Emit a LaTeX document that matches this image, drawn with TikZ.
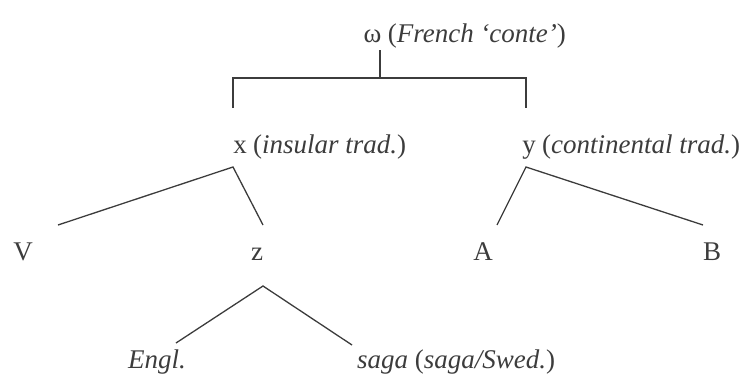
\documentclass[tikz,border=0pt]{standalone}
\usepackage{fontspec}
\setmainfont{Liberation Serif}
\usepackage{tikz}
\usetikzlibrary{positioning, calc}
\definecolor{inkgray}{RGB}{60, 60, 60}

\begin{document}
\begin{tikzpicture}[x=10pt, y=10pt,
    lbl/.style={inner sep=0pt, text=inkgray, font=\fontsize{27}{32}\selectfont},
    branch/.style={draw=inkgray, line width=1.3pt}]
    \useasboundingbox (0,0) rectangle (73.9,37.6);

    % Archetype
    \node[lbl, anchor=base] (w) at (37.25,33.4) {ω};
    \node[lbl, base right=6pt of w] (wgloss) {(\textit{French ‘conte’})};

    % Two traditions
    \node[lbl, anchor=base] (x) at (24.0,22.3) {x};
    \node[lbl, base right=6pt of x] (xgloss) {(\textit{insular trad.})};
    \node[lbl, anchor=base] (y) at (52.9,22.3) {y};
    \node[lbl, base right=6pt of y] (ygloss) {(\textit{continental trad.})};

    % Witnesses
    \node[lbl, anchor=base] (V) at (2.3,11.6) {V};
    \node[lbl, anchor=base] (z) at (25.7,11.6) {z};
    \node[lbl, anchor=base] (A) at (48.3,11.6) {A};
    \node[lbl, anchor=base] (B) at (71.2,11.6) {B};
    \node[lbl, anchor=base] (engl) at (15.7,0.8) {\textit{Engl.}};
    \node[lbl, anchor=base west] (saga) at (35.7,0.8) {\textit{saga} (\textit{saga/Swed.})};

    % Bracket from the archetype
    \draw[branch] ($(w.base)+(0.75,-0.8)$) -- ++(0,-2.8);
    \draw[branch] ($(x.base)+(-0.7,4.5)$) -- ++(0,3) -| ($(y.base)+(-0.3,4.5)$);

    % Branches
    \draw[branch] ($(V.base)+(3.5,3.5)$) -- ($(x.base)+(-0.7,-1.4)$) -- ($(z.base)+(0.6,3.5)$);
    \draw[branch] ($(A.base)+(1.4,3.5)$) -- ($(y.base)+(-0.3,-1.4)$) -- ($(B.base)+(-0.9,3.5)$);
    \draw[branch] ($(engl.base)+(1.9,2.5)$) -- ($(z.base)+(0.6,-2.6)$) -- ($(saga.base west)+(-0.5,2.3)$);
\end{tikzpicture}
\end{document}
